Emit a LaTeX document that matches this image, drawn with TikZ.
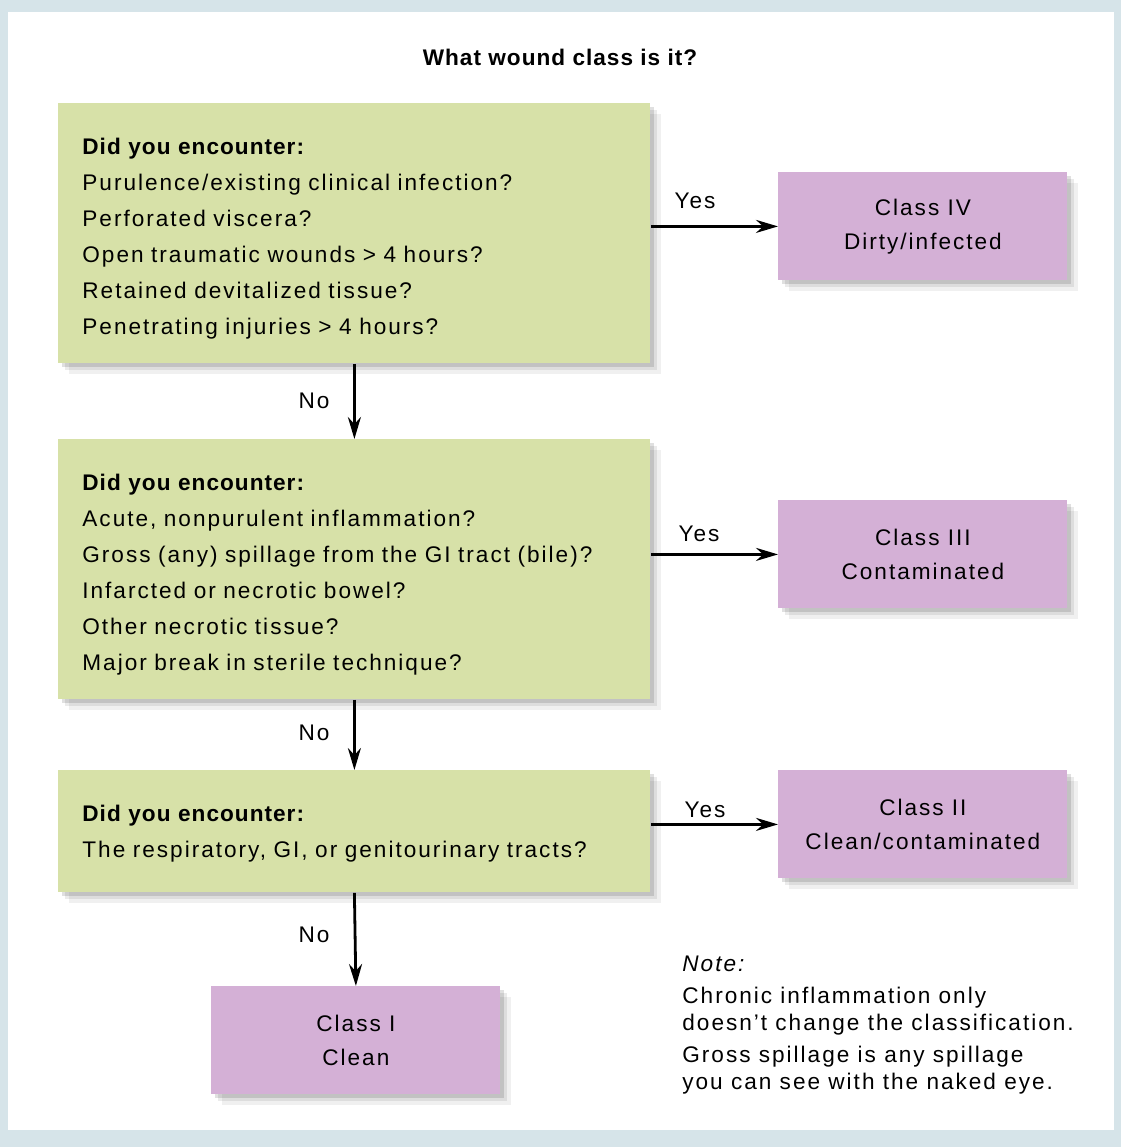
\documentclass[tikz,border=0pt]{standalone}
\usepackage{fontspec}
\setmainfont{Liberation Sans}[LetterSpace=8.8, BoldFeatures={LetterSpace=4.5}]
\usetikzlibrary{arrows.meta}
\definecolor{framebg}{RGB}{214,228,233}
\definecolor{askgreen}{RGB}{215,225,168}
\definecolor{classpink}{RGB}{212,176,214}
\newcommand{\topgap}[1]{\rule{0pt}{#1}}
\tikzset{
  softshadow/.style={
    preaction={fill=black, opacity=0.06, transform canvas={xshift=5.5pt, yshift=-5.5pt}},
    preaction={fill=black, opacity=0.08, transform canvas={xshift=3.5pt, yshift=-3.5pt}},
    preaction={fill=black, opacity=0.12, transform canvas={xshift=1.8pt, yshift=-1.8pt}}},
  askbox/.style={fill=askgreen, softshadow, anchor=north west, align=left, text width=272pt,
    inner xsep=12pt, inner ysep=0pt, minimum width=296pt},
  classbox/.style={fill=classpink, softshadow, anchor=north west, align=center,
    minimum width=144.5pt, minimum height=54pt, inner sep=0pt,
    font=\fontsize{11.3}{17}\selectfont},
  flow/.style={line width=1.4pt, -{Stealth[length=11pt,width=6.5pt]}},
  answer/.style={inner sep=0pt}
}
\begin{document}
\begin{tikzpicture}[x=0.5pt, y=-0.5pt, font=\fontsize{11.3}{18}\selectfont]
	% Khung nền
	\fill[framebg] (0,0) rectangle (1121,1147);
	\fill[white] (8,12) rectangle (1114,1130);
	\useasboundingbox (0,0) rectangle (1121,1147);
	
	% Tiêu đề
	\node[answer, font=\fontsize{11.3}{18}\selectfont\bfseries] (title) at (560,57) {What wound class is it?};
	
	% Các câu hỏi
	\node[askbox, minimum height=130pt] (q1) at (58,103) {\topgap{13pt}\textbf{Did you encounter:}\\
		Purulence/existing clinical infection?\\
		Perforated viscera?\\
		Open traumatic wounds > 4 hours?\\
		Retained devitalized tissue?\\
		Penetrating injuries > 4 hours?};
	\node[askbox, minimum height=130pt] (q2) at (58,439) {\topgap{13pt}\textbf{Did you encounter:}\\
		Acute, nonpurulent inflammation?\\
		Gross (any) spillage from the GI tract (bile)?\\
		Infarcted or necrotic bowel?\\
		Other necrotic tissue?\\
		Major break in sterile technique?};
	\node[askbox, minimum height=61pt] (q3) at (58,770) {\topgap{10pt}\textbf{Did you encounter:}\\
		The respiratory, GI, or genitourinary tracts?};
	
	% Các lớp vết thương
	\node[classbox] (c4) at (778,172) {Class IV\\Dirty/infected};
	\node[classbox] (c3) at (778,500) {Class III\\Contaminated};
	\node[classbox] (c2) at (778,770) {Class II\\Clean/contaminated};
	\node[classbox] (c1) at (211,986) {Class I\\Clean};
	
	% Mũi tên
	\draw[flow] (q1.east |- c4.west) -- (c4.west);
	\draw[flow] (q2.east |- c3.west) -- (c3.west);
	\draw[flow] (q3.east |- c2.west) -- (c2.west);
	\draw[flow] (q1.south) -- (q2.north);
	\draw[flow] (q2.south) -- (q3.north);
	\draw[flow] (q3.south) -- (c1.north);
	
	% Nhãn
	\node[answer] (yes4) at (695,201) {Yes};
	\node[answer] (yes3) at (699,534) {Yes};
	\node[answer] (yes2) at (705,810) {Yes};
	\node[answer] (no1) at (314,401) {No};
	\node[answer] (no2) at (314,733) {No};
	\node[answer] (no3) at (314,935) {No};
	
	% Ghi chú
	\node[answer, anchor=north west, align=left, font=\fontsize{11.3}{13.5}\selectfont] (note) at (682,956)
		{\textit{Note:}\\[2.5pt]
		Chronic inflammation only\\
		doesn’t change the classification.\\[2.5pt]
		Gross spillage is any spillage\\
		you can see with the naked eye.};
\end{tikzpicture}
\end{document}
